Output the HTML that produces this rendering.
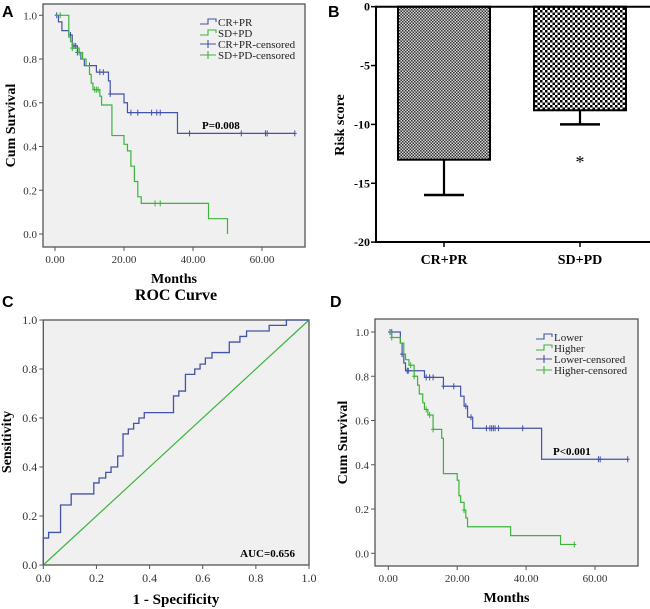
<!DOCTYPE html>
<html><head><meta charset="utf-8"><style>
body{margin:0;background:#fff}
svg{display:block;font-family:"Liberation Serif",serif}
</style></head><body>
<svg id="fig" width="650" height="609" viewBox="0 0 650 609" xmlns="http://www.w3.org/2000/svg">
<defs>
<pattern id="pat1" width="3" height="3" patternUnits="userSpaceOnUse"><rect width="3" height="3" fill="#d8d8d8"/><rect width="1.5" height="1.5" fill="#333"/><rect x="1.5" y="1.5" width="1.5" height="1.5" fill="#333"/></pattern>
<pattern id="pat2" width="5" height="5" patternUnits="userSpaceOnUse"><rect width="5" height="5" fill="#fff"/><rect width="2.5" height="2.5" fill="#000"/><rect x="2.5" y="2.5" width="2.5" height="2.5" fill="#000"/></pattern>
</defs>
<g font-family="Liberation Sans,sans-serif" font-weight="bold" font-size="16">
<text x="2" y="17">A</text>
<text x="328" y="17">B</text>
<text x="2" y="307">C</text>
<text x="330" y="307">D</text>
</g>
</svg>
<script>
// Panel A data
const aBlueT=[0,1,2,4,5,6.5,7.5,8.5,12,15.5,16,20,21,35.5];
const aBlueS=[1,0.97,0.93,0.91,0.86,0.83,0.80,0.77,0.74,0.70,0.64,0.60,0.555,0.46];
const aBlueEnd=69.5;
const aBlueCensT=[0.5,4.5,5.5,6,6.5,10,13,14,16,22,24,28,29.5,30.5,39,54,61,61.5,69.5];
const aGreenT=[0,4,4.5,5,7,8,9,10,10.5,11,13,13.5,16.5,20,21,22,23,24,25,44.5,50];
const aGreenS=[1,0.90,0.88,0.85,0.83,0.80,0.77,0.73,0.69,0.66,0.63,0.59,0.45,0.41,0.38,0.31,0.24,0.17,0.14,0.07,0.0];
const aGreenEnd=50;
const aGreenCensT=[1.5,5,7,11.5,12,12.5,29,30.5];
// Panel B data
const bCats=["CR+PR","SD+PD"];
const bVals=[-13,-8.8];
const bErr=[-16,-10];
const bTicks=[0,-5,-10,-15,-20];
// Panel C data
const rocX=[0,0.02,0.065,0.105,0.19,0.21,0.235,0.255,0.28,0.30,0.32,0.34,0.36,0.38,0.49,0.51,0.535,0.57,0.59,0.61,0.635,0.70,0.74,0.765,0.85,0.915];
const rocY=[0.11,0.133,0.245,0.29,0.335,0.355,0.378,0.40,0.445,0.535,0.555,0.578,0.60,0.622,0.69,0.71,0.778,0.80,0.82,0.845,0.867,0.91,0.933,0.955,0.978,1.0];
const rocTicks=[0,0.2,0.4,0.6,0.8,1.0];
// Panel D data
const dBlueT=[0,3.5,4,4.5,5,10.5,16,21,22,23,24.5,44.5];
const dBlueS=[1,0.95,0.90,0.86,0.825,0.795,0.755,0.71,0.665,0.615,0.565,0.425];
const dBlueEnd=69.5;
const dBlueCensT=[0.5,1,4,5.5,5.8,11,12,13,16,19,22.5,24,28.5,29.5,30,30.5,31,32,39,61,61.5,69.5];
const dGreenT=[0,1,3.5,4.5,5,6,7.5,8.5,9,10,10.5,11.5,13,15.5,16,20,20.5,21,22,22.5,23,35.5,50];
const dGreenS=[1,0.975,0.95,0.90,0.875,0.85,0.80,0.76,0.72,0.68,0.65,0.625,0.56,0.52,0.36,0.33,0.26,0.23,0.195,0.16,0.12,0.08,0.04];
const dGreenEnd=54;
const dGreenCensT=[1,6.5,7.5,11,12,13,22,54];
const kmXTicks=[0,20,40,60];
const kmYTicks=[0,0.2,0.4,0.6,0.8,1.0];

const NS="http://www.w3.org/2000/svg";
const svg=document.getElementById('fig');
function mk(tag,attrs,parent,text){const e=document.createElementNS(NS,tag);for(const k in attrs)e.setAttribute(k,attrs[k]);if(text!==undefined)e.textContent=text;(parent||svg).appendChild(e);return e;}
const BLUE="#4353a8",GREEN="#3cb43c";

function survAt(T,S,t){let s=S[0];for(let i=0;i<T.length;i++){if(T[i]<=t)s=S[i];}return s;}
function kmPath(T,S,end,sx,sy){let d="M"+sx(T[0])+","+sy(S[0]);for(let i=1;i<T.length;i++){d+=" H"+sx(T[i])+" V"+sy(S[i]);}d+=" H"+sx(end);return d;}

function kmPanel(cfg){
  const g=mk('g',{});
  
  
  const sx=v=>cfg.x0+v*cfg.kx, sy=v=>cfg.y0-v*cfg.ky;
  const bg=mk('rect',{x:cfg.bx1,y:cfg.by1,width:cfg.bx2-cfg.bx1,height:cfg.by2-cfg.by1,fill:"#f0f0f0",stroke:"#555","stroke-width":1.3},g);
  
  
  kmXTicks.forEach(v=>{
    mk('line',{x1:sx(v),x2:sx(v),y1:cfg.by2,y2:cfg.by2+4,stroke:"#555"},g);
    const t=mk('text',{x:sx(v),y:cfg.by2+16,"text-anchor":"middle","font-size":11,fill:"#333"},g,v.toFixed(2));
    
    
  });
  kmYTicks.forEach(v=>{
    mk('line',{x1:cfg.bx1-4,x2:cfg.bx1,y1:sy(v),y2:sy(v),stroke:"#555"},g);
    const t=mk('text',{x:cfg.bx1-6,y:sy(v)+4,"text-anchor":"end","font-size":11,fill:"#333"},g,v.toFixed(1));
    
    
  });
  const xt=mk('text',{x:(cfg.bx1+cfg.bx2)/2,y:cfg.by2+36,"text-anchor":"middle","font-size":14,"font-weight":"bold"},g,"Months");
  
  
  const yc=(cfg.by1+cfg.by2)/2;
  const yt=mk('text',{x:cfg.bx1-28,y:yc,"text-anchor":"middle","font-size":14,"font-weight":"bold",transform:`rotate(-90 ${cfg.bx1-28} ${yc})`},g,"Cum Survival");
  
  
  cfg.series.forEach(s=>{
    const p=mk('path',{d:kmPath(s.T,s.S,s.end,sx,sy),fill:"none",stroke:s.color,"stroke-width":1.2},g);
    
    
    s.C.forEach(t=>{
      const y=sy(survAt(s.T,s.S,t)),x=sx(t);
      const m=mk('path',{d:`M${x-2},${y} H${x+2} M${x},${y-3} V${y+3}`,stroke:s.color,"stroke-width":1},g);
      
      
    });
  });
  // legend
  const lx=cfg.lx,ly=cfg.ly;
  const items=[[cfg.series[0].label,BLUE,'step'],[cfg.series[1].label,GREEN,'step'],[cfg.series[0].label+'-censored',BLUE,'plus'],[cfg.series[1].label+'-censored',GREEN,'plus']];
  items.forEach((it,i)=>{
    const y=ly+i*11;
    const le=mk('g',{},g);
    
    
    if(it[2]==='step')mk('path',{d:`M${lx},${y+2} H${lx+8} V${y-3} H${lx+16} V${y}`,fill:"none",stroke:it[1],"stroke-width":1.1},le);
    else mk('path',{d:`M${lx},${y} H${lx+16} M${lx+8},${y-4} V${y+4}`,stroke:it[1],"stroke-width":1.1},le);
    mk('text',{x:lx+18,y:y+4,"font-size":11,fill:"#222"},le,it[0]);
  });
  const pv=mk('text',{x:cfg.px,y:cfg.py,"font-size":11,"font-weight":"bold"},g,cfg.ptext);
  
  
}

kmPanel({name:'panel-a-km-chart',bx1:43,bx2:305,by1:4,by2:247,x0:55,kx:3.45,y0:234,ky:218.7,lx:200,ly:22,px:202,py:129,ptext:"P=0.008",
  series:[{key:'cr-pr',label:'CR+PR',color:BLUE,T:aBlueT,S:aBlueS,end:aBlueEnd,C:aBlueCensT},{key:'sd-pd',label:'SD+PD',color:GREEN,T:aGreenT,S:aGreenS,end:aGreenEnd,C:aGreenCensT}]});
kmPanel({name:'panel-d-km-chart',bx1:375,bx2:638,by1:319,by2:566,x0:388.3,kx:3.445,y0:553.3,ky:221.3,lx:536,ly:337,px:553,py:455,ptext:"P<0.001",
  series:[{key:'lower',label:'Lower',color:BLUE,T:dBlueT,S:dBlueS,end:dBlueEnd,C:dBlueCensT},{key:'higher',label:'Higher',color:GREEN,T:dGreenT,S:dGreenS,end:dGreenEnd,C:dGreenCensT}]});

// Panel B
(function(){
  const g=mk('g',{});
  
  
  const ax=376,y0=6.7,k=11.77;
  const sy=v=>y0-v*k;
  const centers=[444,580],bw=92,pats=['url(#pat1)','url(#pat2)'];
  bVals.forEach((v,i)=>{
    const cx=centers[i];
    mk('line',{x1:cx,x2:cx,y1:sy(v),y2:sy(bErr[i]),stroke:"#000","stroke-width":2.2},g);
    const cap=mk('line',{x1:cx-20,x2:cx+20,y1:sy(bErr[i]),y2:sy(bErr[i]),stroke:"#000","stroke-width":2.5},g);
    
    
    const b=mk('rect',{x:cx-bw/2,y:sy(0),width:bw,height:sy(v)-sy(0),fill:pats[i],stroke:"#000","stroke-width":2},g);
    
    
    mk('line',{x1:cx,x2:cx,y1:242,y2:247,stroke:"#000","stroke-width":1.5},g);
    const t=mk('text',{x:cx,y:264,"text-anchor":"middle","font-size":14,"font-weight":"bold"},g,bCats[i]);
    
    
  });
  mk('line',{x1:ax,x2:650,y1:y0,y2:y0,stroke:"#000","stroke-width":2},g);
  mk('line',{x1:ax,x2:650,y1:242,y2:242,stroke:"#000","stroke-width":2},g);
  mk('line',{x1:ax,x2:ax,y1:y0-1,y2:243,stroke:"#000","stroke-width":2},g);
  bTicks.forEach(v=>{
    mk('line',{x1:ax-5,x2:ax,y1:sy(v),y2:sy(v),stroke:"#000","stroke-width":1.5},g);
    const t=mk('text',{x:ax-6,y:sy(v)+4,"text-anchor":"end","font-size":12,"font-weight":"bold"},g,String(v));
    
    
  });
  const yt=mk('text',{x:344,y:125,"text-anchor":"middle","font-size":14,"font-weight":"bold",transform:"rotate(-90 344 125)"},g,"Risk  score");
  
  
  const st=mk('text',{x:580,y:168,"text-anchor":"middle","font-size":18},g,"*");
  
  
})();

// Panel C
(function(){
  const g=mk('g',{});
  
  
  const x0=43.3,x1=309,y0=565,y1=320;
  const sx=v=>x0+v*(x1-x0), sy=v=>y0-v*(y0-y1);
  const bg=mk('rect',{x:x0,y:y1,width:x1-x0,height:y0-y1,fill:"#f0f0f0",stroke:"#555","stroke-width":1.3},g);
  
  
  const ti=mk('text',{x:176,y:300,"text-anchor":"middle","font-size":16,"font-weight":"bold"},g,"ROC Curve");
  
  
  rocTicks.forEach(v=>{
    mk('line',{x1:sx(v),x2:sx(v),y1:y0,y2:y0+4,stroke:"#555"},g);
    const t=mk('text',{x:sx(v),y:y0+17,"text-anchor":"middle","font-size":12,fill:"#333"},g,v.toFixed(1));
    
    
    mk('line',{x1:x0-4,x2:x0,y1:sy(v),y2:sy(v),stroke:"#555"},g);
    const t2=mk('text',{x:x0-6,y:sy(v)+4,"text-anchor":"end","font-size":12,fill:"#333"},g,v.toFixed(1));
    
    
  });
  const dg=mk('line',{x1:sx(0),y1:sy(0),x2:sx(1),y2:sy(1),stroke:GREEN,"stroke-width":1.2},g);
  
  
  let d="M"+sx(0)+","+sy(0);
  rocX.forEach((x,i)=>{d+=" H"+sx(x)+" V"+sy(rocY[i]);});
  d+=" H"+sx(1);
  const rc=mk('path',{d:d,fill:"none",stroke:BLUE,"stroke-width":1.3},g);
  
  
  const xt=mk('text',{x:176,y:604,"text-anchor":"middle","font-size":15,"font-weight":"bold"},g,"1 - Specificity");
  
  
  const yt=mk('text',{x:11,y:442,"text-anchor":"middle","font-size":14,"font-weight":"bold",transform:"rotate(-90 11 442)"},g,"Sensitivity");
  
  
  const au=mk('text',{x:295,y:557,"text-anchor":"end","font-size":11,"font-weight":"bold"},g,"AUC=0.656");
  
  
})();
</script>
</body></html>
